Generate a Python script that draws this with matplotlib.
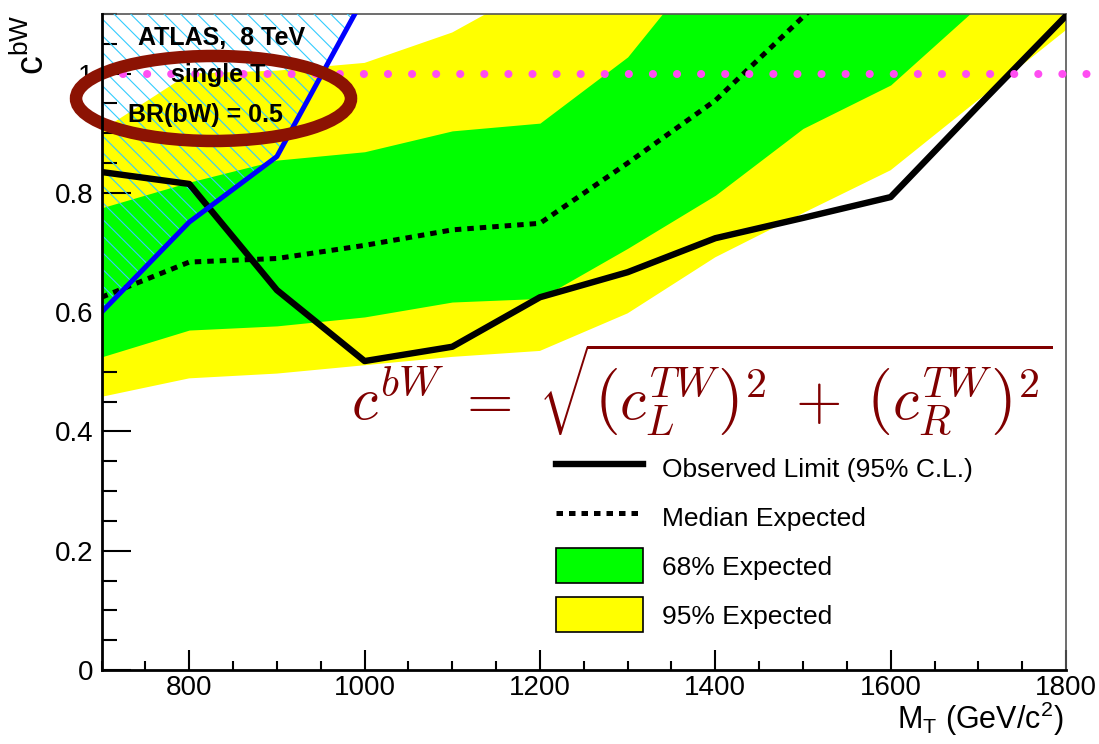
import numpy as np
import matplotlib
matplotlib.use('Agg')
import matplotlib.pyplot as plt
from matplotlib.patches import Ellipse, Patch
from matplotlib.lines import Line2D
from matplotlib.ticker import MultipleLocator, FuncFormatter

plt.rcParams['font.family'] = ['Liberation Sans', 'DejaVu Sans']
plt.rcParams['mathtext.fontset'] = 'custom'
plt.rcParams['mathtext.rm'] = 'Liberation Sans'
plt.rcParams['mathtext.it'] = 'Liberation Sans:italic'
plt.rcParams['mathtext.bf'] = 'Liberation Sans:bold'
plt.rcParams['hatch.linewidth'] = 0.8

# T mass points (GeV)
mass = [700, 800, 900, 1000, 1100, 1200, 1300, 1400, 1500, 1600, 1700, 1800]
observed = [0.835, 0.815, 0.637, 0.518, 0.542, 0.625, 0.667, 0.724, 0.758, 0.793, 0.946, 1.097]
median = [0.625, 0.684, 0.690, 0.712, 0.738, 0.749, 0.850, 0.955, 1.095, 1.235, 1.38, 1.52]
band68_lo = [0.525, 0.570, 0.577, 0.592, 0.617, 0.623, 0.707, 0.796, 0.908, 0.981, 1.113, 1.25]
band68_hi = [0.775, 0.818, 0.855, 0.869, 0.904, 0.917, 1.028, 1.21, 1.35, 1.5, 1.6, 1.7]
band95_lo = [0.458, 0.489, 0.497, 0.511, 0.525, 0.535, 0.598, 0.692, 0.766, 0.838, 0.956, 1.073]
band95_hi = [0.905, 1.0, 1.005, 1.018, 1.069, 1.15, 1.3, 1.45, 1.6, 1.7, 1.8, 1.9]

# excluded region boundary (blue)
excl_mass = [700, 800, 900, 1000]
excl_c = [0.600, 0.751, 0.861, 1.13]

# c = 1 reference line
ref_mass = [725, 1825]
ref_c = [1.0, 1.0]

fig = plt.figure(figsize=(10.99, 7.44), dpi=100)
ax = fig.add_axes([0.0924, 0.0995, 0.8776, 0.8817])

ax.fill_between(mass, band95_lo, band95_hi, color='#ffff00', lw=0, zorder=1)
ax.fill_between(mass, band68_lo, band68_hi, color='#00ff00', lw=0, zorder=2)
ax.fill_between(excl_mass, excl_c, 1.1, facecolor='none', edgecolor='#33ccff',
                hatch='\\\\', lw=0, zorder=3)

ax.plot(mass, median, color='black', lw=3.6, linestyle=(0, (1.3, 1.2)),
        dash_capstyle='butt', zorder=4)
ax.plot(mass, observed, color='black', lw=4.6, solid_capstyle='round', zorder=5)
ax.plot(excl_mass, excl_c, color='#0000ff', lw=3.6, zorder=6)
ax.plot(ref_mass, ref_c, color='#ff4df2', lw=5.8, linestyle=(0, (0.01, 2.98)),
        dash_capstyle='round', clip_on=False, zorder=7)

ax.set_xlim(700, 1800)
ax.set_ylim(0, 1.1)

ax.xaxis.set_major_locator(MultipleLocator(200))
ax.xaxis.set_minor_locator(MultipleLocator(50))
ax.yaxis.set_major_locator(MultipleLocator(0.2))
ax.yaxis.set_minor_locator(MultipleLocator(0.05))
ax.yaxis.set_major_formatter(FuncFormatter(lambda v, p: f'{v:g}'))

ax.tick_params(which='both', direction='in', top=False, right=False, width=1.5,
               labelsize=20)
ax.tick_params(axis='y', which='major', length=21, pad=6)
ax.tick_params(axis='y', which='minor', length=10.8)
ax.tick_params(axis='x', which='major', length=14.4, pad=3.5)
ax.tick_params(axis='x', which='minor', length=6.5)

for s in ['left', 'bottom']:
    ax.spines[s].set_linewidth(2)
    ax.spines[s].set_zorder(10)
for s in ['top', 'right']:
    ax.spines[s].set_linewidth(1.2)
    ax.spines[s].set_color('#555555')

# annotation ellipse and labels
ell = Ellipse((0.1161, 0.8712), 0.2851, 0.1296, transform=ax.transAxes, fill=False,
              edgecolor='#8c1303', lw=9, clip_on=False, zorder=8)
ax.add_patch(ell)
ax.text(0.1249, 0.9527, 'ATLAS,  8 TeV', transform=ax.transAxes, ha='center',
        va='baseline', fontsize=18, fontweight='bold', zorder=9)
ax.text(0.1208, 0.8963, 'single T', transform=ax.transAxes, ha='center',
        va='baseline', fontsize=18, fontweight='bold', zorder=9)
ax.text(0.1073, 0.8354, 'BR(bW) = 0.5', transform=ax.transAxes, ha='center',
        va='baseline', fontsize=18, fontweight='bold', zorder=9)

ax.text(0.2587, 0.3796,
        r'$c^{bW}\;=\;\sqrt{\left(c_L^{TW}\right)^2\;+\;\left(c_R^{TW}\right)^2}$',
        transform=ax.transAxes, ha='left', va='baseline', fontsize=43,
        color='#800000', math_fontfamily='cm', zorder=9)

handles = [
    Line2D([], [], color='black', lw=4.6),
    Line2D([], [], color='black', lw=3.6, linestyle=(0, (1.3, 1.2))),
    Patch(facecolor='#00ff00', edgecolor='black', lw=1.2),
    Patch(facecolor='#ffff00', edgecolor='black', lw=1.2),
]
labels = ['Observed Limit (95% C.L.)', 'Median Expected', '68% Expected', '95% Expected']
ax.legend(handles, labels, loc='upper left', bbox_to_anchor=(0.4712, 0.3346),
          frameon=False, fontsize=19, handlelength=3.3, handleheight=1.663,
          labelspacing=0.53, handletextpad=0.72, borderpad=0, borderaxespad=0)

fig.text(33 / 1099, 1 - 15 / 744, r'c$^{\mathrm{bW}}$', rotation=90, ha='center',
         va='top', fontsize=27)
fig.text(1063 / 1099, 1 - 729 / 744, r'M$_{\mathrm{T}}$ (GeV/c$^{\mathrm{2}}$)',
         ha='right', va='baseline', fontsize=22)

fig.savefig('out.png', dpi=100)
